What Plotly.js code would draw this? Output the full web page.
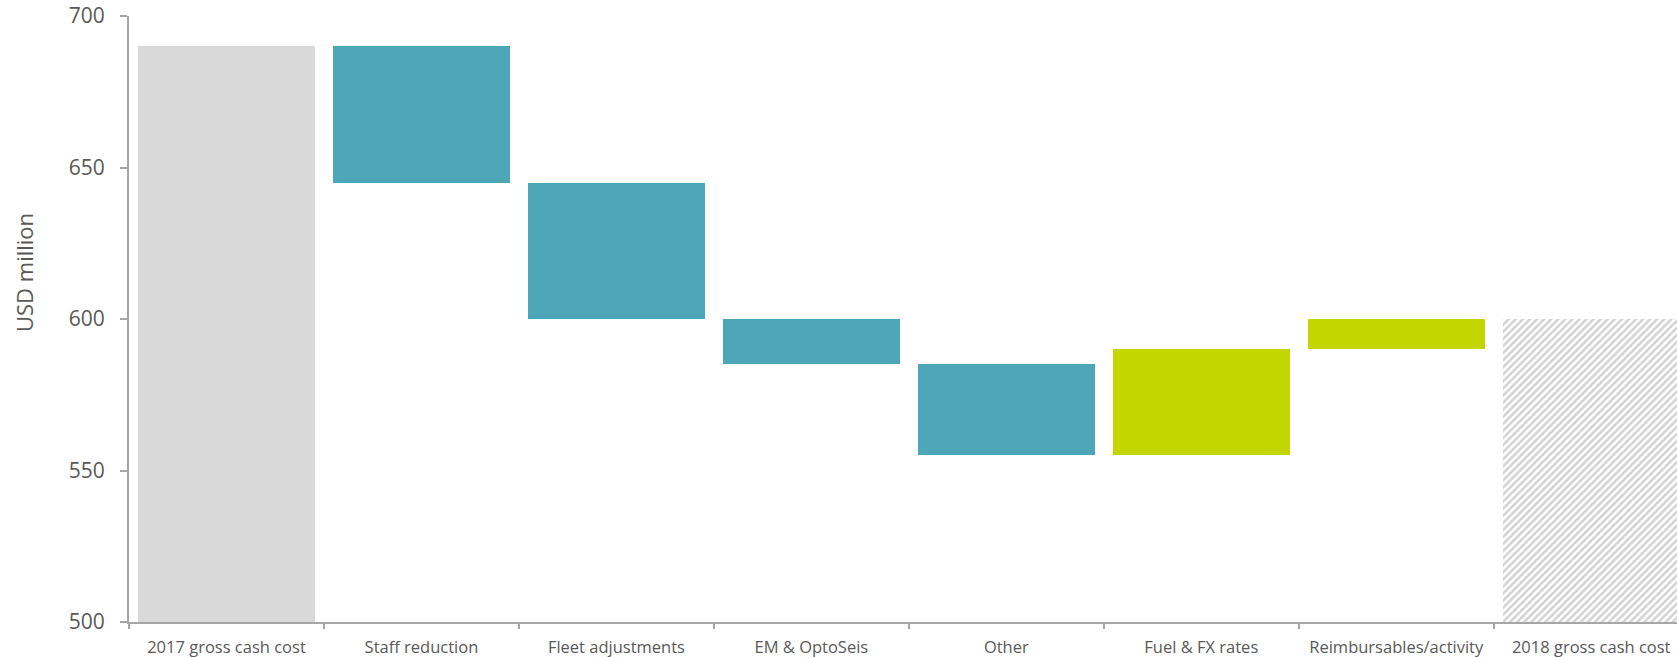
<!DOCTYPE html>
<html>
<head>
<meta charset="utf-8">
<script src="https://cdn.plot.ly/plotly-3.0.1.min.js"></script>
<style>
  html, body { margin: 0; padding: 0; background: #ffffff; overflow: hidden; }
  #chart { width: 1677px; height: 657px; }
</style>
</head>
<body>
<div id="chart"></div>
<script>
// Gross cash cost bridge, 2017 to 2018 (USD million)
const categories = [
  "2017 gross cash cost",
  "Staff reduction",
  "Fleet adjustments",
  "EM & OptoSeis",
  "Other",
  "Fuel & FX rates",
  "Reimbursables/activity",
  "2018 gross cash cost"
];
const values = [690, -45, -45, -15, -30, 35, 10, 600];
const kinds = ["total", "step", "step", "step", "step", "step", "step", "total"];

const COLOR_START = "#d9d9d9";
const COLOR_DOWN = "#4ea6b9";
const COLOR_UP = "#c4d600";
const COLOR_END = "#d2d2d2";

// Floating bars: each step starts where the running level left off
const bases = [];
const heights = [];
const colors = [];
const shapes = [];
let level = 0;
values.forEach((v, i) => {
  if (kinds[i] === "total") {
    bases.push(0);
    heights.push(v);
    level = v;
    colors.push(i === 0 ? COLOR_START : COLOR_END);
    shapes.push(i === 0 ? "" : "/");
  } else {
    bases.push(level);
    heights.push(v);
    level += v;
    colors.push(v < 0 ? COLOR_DOWN : COLOR_UP);
    shapes.push("");
  }
});

const trace = {
  type: "bar",
  x: categories,
  y: heights,
  base: bases,
  width: 0.908,
  marker: {
    color: colors,
    line: { width: 0 },
    pattern: { shape: shapes, size: 5, solidity: 0.5, fillmode: "replace" }
  },
  hoverinfo: "skip"
};

const W = 1677, H = 657;
const mL = 129, mR = 0, mT = 16, mB = 35;
const plotW = W - mL - mR;
const plotH = H - mT - mB;

const layout = {
  width: W,
  height: H,
  margin: { l: mL, r: mR, t: mT, b: mB, pad: 0 },
  paper_bgcolor: "#ffffff",
  plot_bgcolor: "#ffffff",
  showlegend: false,
  font: { family: "Open Sans, Liberation Sans, sans-serif", color: "#595959" },
  bargap: 0,
  xaxis: {
    type: "category",
    range: [-0.5, 7.44],
    showline: true,
    linecolor: "#a6a6a6",
    linewidth: 2,
    ticks: "outside",
    tickson: "boundaries",
    ticklen: 5,
    tickwidth: 2,
    tickcolor: "#a6a6a6",
    showgrid: false,
    zeroline: false,
    tickfont: { size: 16.5, color: "#595959" },
    ticklabelstandoff: 9,
    fixedrange: true
  },
  yaxis: {
    range: [500, 700],
    tickvals: [500, 550, 600, 650, 700],
    showline: true,
    linecolor: "#a6a6a6",
    linewidth: 2,
    ticks: "outside",
    ticklen: 7,
    tickwidth: 2,
    tickcolor: "#a6a6a6",
    showgrid: false,
    zeroline: false,
    tickfont: { size: 21, color: "#595959" },
    ticklabelstandoff: 11,
    fixedrange: true
  },
  annotations: [{
    text: "USD million",
    textangle: -90,
    xref: "paper",
    yref: "paper",
    x: (24 - mL) / plotW,
    y: 1 - (273 - mT) / plotH,
    xanchor: "center",
    yanchor: "middle",
    showarrow: false,
    font: { size: 22, color: "#595959" }
  }]
};

Plotly.newPlot("chart", [trace], layout, { displayModeBar: false, staticPlot: true });
</script>
</body>
</html>
